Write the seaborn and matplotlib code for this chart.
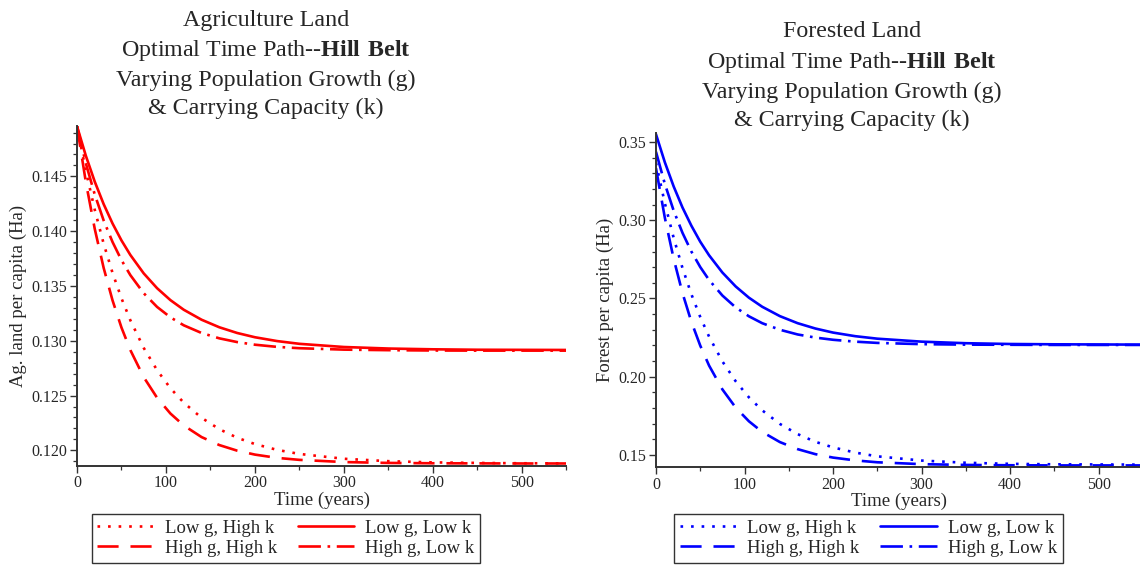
import numpy as np
import pandas as pd
import matplotlib
matplotlib.use('Agg')
import matplotlib.pyplot as plt
import seaborn as sns
from matplotlib.ticker import MultipleLocator, FormatStrFormatter

# Time points (years)
years = [0, 10, 20, 30, 40, 50, 60, 75, 90, 105, 120, 140, 160, 180, 200,
         225, 250, 300, 350, 400, 450, 500, 550]

# Agriculture land per capita (Ha)
ag_lowg_highk = [.1496, .14550, .14195, .13886, .13619, .13388, .13187, .12935, .12732, .12567, .12435, .12297,
                 .12193, .12115, .12057, .12004, .11967, .11923, .11901, .11890, .11885, .11882, .11881]
ag_highg_highk = [.1496, .14448, .14021, .13665, .13368, .13121, .12915, .12668, .12480, .12336, .12227, .12121,
                  .12048, .11997, .11961, .11931, .11913, .11893, .11885, .11882, .11881, .11880, .11880]
ag_lowg_lowk = [.1496, .14688, .14452, .14247, .14070, .13916, .13783, .13615, .13480, .13371, .13283, .13192,
                .13123, .13071, .13032, .12997, .12972, .12943, .12929, .12922, .12918, .12917, .12916]
ag_highg_lowk = [.1496, .14619, .14335, .14098, .13901, .13736, .13599, .13434, .13309, .13214, .13141, .13071,
                 .13022, .12988, .12964, .12944, .12932, .12919, .12914, .12911, .12910, .12910, .12910]

# Forest per capita (Ha)
fo_lowg_highk = [.3367, .3110, .2887, .2694, .2527, .2382, .2256, .2098, .1971, .1868, .1785, .1698,
                 .1633, .1584, .1548, .1515, .1491, .1464, .1450, .1443, .1440, .1439, .1438]
fo_highg_highk = [.3333, .3017, .2754, .2534, .2351, .2199, .2071, .1919, .1803, .1715, .1647, .1582,
                  .1537, .1505, .1483, .1465, .1453, .1441, .1436, .1434, .1433, .1433, .1433]
fo_lowg_lowk = [.3550, .3371, .3216, .3081, .2965, .2863, .2776, .2666, .2577, .2505, .2447, .2387,
                .2342, .2308, .2282, .2259, .2243, .2224, .2214, .2209, .2207, .2206, .2205]
fo_highg_lowk = [.3438, .3233, .3061, .2919, .2800, .2701, .2618, .2519, .2443, .2386, .2342, .2300,
                 .2270, .2250, .2236, .2224, .2216, .2208, .2205, .2204, .2203, .2203, .2203]

labels = ['Low g, High k', 'High g, High k', 'Low g, Low k', 'High g, Low k']
styles = [(0, (1, 3)), (0, (8, 4.5)), '-', (0, (8.5, 2.5, 1, 2.5))]

sns.set_theme(style='ticks')
plt.rcParams['font.family'] = ['Liberation Serif', 'DejaVu Serif']
plt.rcParams['mathtext.fontset'] = 'custom'
plt.rcParams['mathtext.rm'] = 'Liberation Serif'
plt.rcParams['mathtext.bf'] = 'Liberation Serif:bold'

fig = plt.figure(figsize=(11.4, 5.65), dpi=100)
ax1 = fig.add_axes([0.0675, 0.1758, 0.4294, 0.6012])
ax2 = fig.add_axes([0.5754, 0.1735, 0.4272, 0.5912])


def draw_panel(ax, series, color, ylabel, ylim, ymajor, yminor, yfmt):
    for vals, lab, ls in zip(series, labels, styles):
        df = pd.DataFrame({'t': years, 'v': vals})
        sns.lineplot(data=df, x='t', y='v', ax=ax, color=color, linewidth=1.9,
                     linestyle=ls, label=lab, legend=False)
    ax.set_xlim(0, 550)
    ax.set_ylim(*ylim)
    ax.xaxis.set_major_locator(MultipleLocator(100))
    ax.xaxis.set_minor_locator(MultipleLocator(50))
    ax.yaxis.set_major_locator(MultipleLocator(ymajor))
    ax.yaxis.set_minor_locator(MultipleLocator(yminor))
    ax.yaxis.set_major_formatter(FormatStrFormatter(yfmt))
    for side in ['top', 'right']:
        ax.spines[side].set_visible(False)
    for side in ['left', 'bottom']:
        ax.spines[side].set_color('#333333')
        ax.spines[side].set_linewidth(1.4)
    ax.tick_params(which='major', length=5, width=1.0, color='#333333', labelsize=11.5, pad=2)
    ax.tick_params(which='minor', length=3, width=0.9, color='#333333')
    ax.set_xlabel('Time (years)', fontsize=13.5, labelpad=0)
    ax.set_ylabel(ylabel, fontsize=13.5, labelpad=3)
    leg_lines = ax.get_lines()[:4]
    return leg_lines


h1 = draw_panel(ax1, [ag_lowg_highk, ag_highg_highk, ag_lowg_lowk, ag_highg_lowk], 'red',
                'Ag. land per capita (Ha)', (0.1186, 0.1496), 0.005, 0.001, '%.3f')
h2 = draw_panel(ax2, [fo_lowg_highk, fo_highg_highk, fo_lowg_lowk, fo_highg_lowk], 'blue',
                'Forest per capita (Ha)', (0.1423, 0.3558), 0.05, 0.01, '%.2f')

for ax, handles, cx in [(ax1, h1, 0.2509), (ax2, h2, 0.7618)]:
    leg = ax.legend(handles, labels, ncol=2, loc='center', bbox_to_anchor=(cx, 0.047),
                    bbox_transform=fig.transFigure, fontsize=13.5, frameon=True,
                    fancybox=False, edgecolor='black', handlelength=3.0,
                    columnspacing=1.1, handletextpad=0.6, labelspacing=0.15,
                    borderpad=0.3)
    leg.get_frame().set_linewidth(1.0)

title_tail = ['Varying Population Growth (g)', '& Carrying Capacity (k)']
fig.text(0.2333, 0.983, '\n'.join(['Agriculture Land', r'Optimal Time Path--$\mathbf{Hill\ Belt}$'] + title_tail),
         ha='center', va='top', fontsize=17.3, linespacing=1.42)
fig.text(0.7474, 0.962, '\n'.join(['Forested Land', r'Optimal Time Path--$\mathbf{Hill\ Belt}$'] + title_tail),
         ha='center', va='top', fontsize=17.3, linespacing=1.42)

fig.savefig('out.png', dpi=100)
